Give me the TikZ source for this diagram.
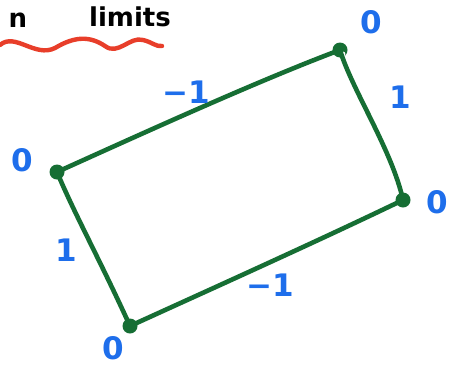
\documentclass[tikz,border=0pt]{standalone}
\usepackage{fontspec}
\setmainfont{DejaVu Sans}
\begin{document}
\begin{tikzpicture}[x=1pt,y=-1pt,
  edge/.style={draw=gr,line width=4.6pt,line cap=round},
  vtx/.style={circle,fill=gr,inner sep=0pt,minimum size=15pt},
  lab/.style={text=bl,font=\bfseries\fontsize{31}{31}\selectfont},
  ink/.style={text=black,font=\bfseries\fontsize{26}{26}\selectfont}]
\definecolor{gr}{RGB}{22,110,52}
\definecolor{bl}{RGB}{30,110,235}
\definecolor{rd}{RGB}{232,62,42}
\useasboundingbox (0,0) rectangle (454,370);
\fill[white] (0,0) rectangle (454,370);
% vertices
\node[vtx] (L) at (57,172) {};
\node[vtx] (T) at (340,50) {};
\node[vtx] (R) at (403,200) {};
\node[vtx] (B) at (130,326) {};
\fill[white] (T.center) ++(3,4) circle (2.4);
% edges
\draw[edge] (L.center) .. controls (150,130) and (260,80) .. (T.center);
\draw[edge] (T.center) .. controls (352,90) and (392,150) .. (R.center);
\draw[edge] (R.center) .. controls (320,240) and (220,285) .. (B.center);
\draw[edge] (B.center) .. controls (100,260) and (75,215) .. (L.center);
% labels
\node[lab] (lT) at (371,22) {0};
\node[lab] (lL) at (22,160) {0};
\node[lab] (lR) at (437,202) {0};
\node[lab] (lB) at (113,348) {0};
\node[lab] (eT) at (186,92) {−1};
\node[lab] (eR) at (400,97) {1};
\node[lab] (eL) at (66,250) {1};
\node[lab] (eB) at (270,285) {−1};
% heading
\node[ink] (h1) at (18,20) {n};
\node[ink] (h2) at (130,17) {limits};
\draw[rd,line width=4.4pt,line cap=round] (0,45) .. controls (15,32) and (35,58) .. (55,48)
  .. controls (75,36) and (90,36) .. (105,46) .. controls (118,56) and (130,36) .. (143,40)
  .. controls (152,42) and (156,47) .. (162,46);
\end{tikzpicture}
\end{document}
